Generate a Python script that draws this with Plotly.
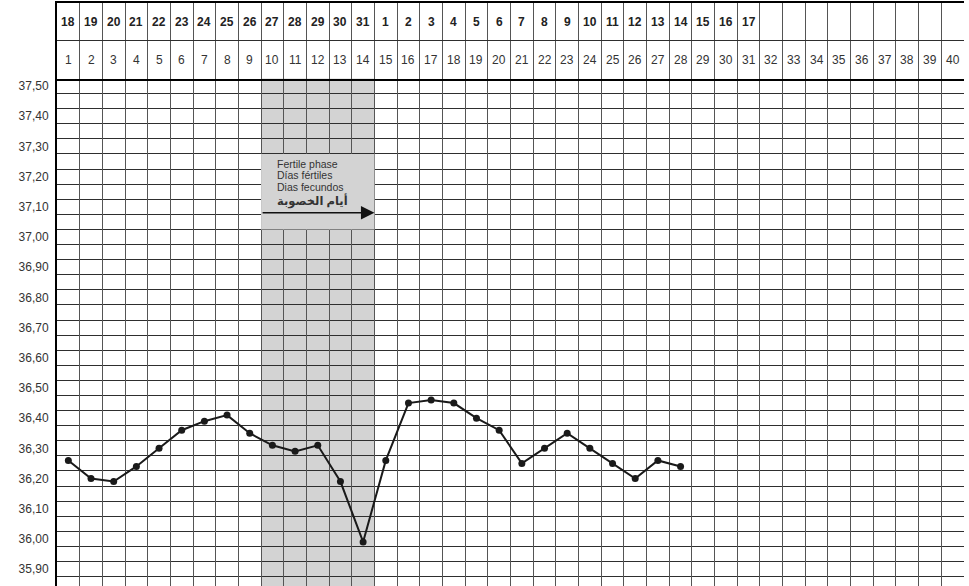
import plotly.graph_objects as go

# ---- data ----
cycle_days = list(range(1, 41))
date_labels = [str(d) for d in range(18, 32)] + [str(d) for d in range(1, 18)] + [""] * 9
temp_days = list(range(1, 29))
temps = [36.26, 36.20, 36.19, 36.24, 36.30, 36.36, 36.39, 36.41, 36.35, 36.31,
         36.29, 36.31, 36.19, 35.99, 36.26, 36.45, 36.46, 36.45, 36.40, 36.36,
         36.25, 36.30, 36.35, 36.30, 36.25, 36.20, 36.26, 36.24]
y_ticks = [35.90, 36.00, 36.10, 36.20, 36.30, 36.40, 36.50, 36.60, 36.70,
           36.80, 36.90, 37.00, 37.10, 37.20, 37.30, 37.40, 37.50]
fertile_start, fertile_end = 10, 14
fertile_texts = ["Fertile phase", "Días fértiles", "Dias fecundos", "أيام الخصوبة"]

W, H = 969, 586
ml, mr, mt, mb = 57, 5, 3, 0
main_top_px = 78.5
split = (H - main_top_px) / (H - mt - mb)

FONT = "Arial, Liberation Sans, DejaVu Sans, sans-serif"
col_edges = [c - 0.5 for c in cycle_days] + [cycle_days[-1] + 0.5]

fig = go.Figure()

fig.add_trace(go.Scatter(
    x=temp_days, y=temps, mode="lines+markers",
    line=dict(color="#1a1a1a", width=2),
    marker=dict(color="#1a1a1a", size=7),
    xaxis="x", yaxis="y", showlegend=False, hoverinfo="skip",
))

# header dummy trace to activate axes
fig.add_trace(go.Scatter(x=[1], y=[0.5], mode="markers", marker=dict(opacity=0),
                         xaxis="x2", yaxis="y2", showlegend=False, hoverinfo="skip"))

grid_v = "#555555"
grid_h = "#2e2e2e"

fig.update_layout(
    width=W, height=H,
    margin=dict(l=ml, r=mr, t=mt, b=mb, autoexpand=False),
    paper_bgcolor="white", plot_bgcolor="white",
    separators=",.",
    font=dict(family=FONT, color="#222"),
    xaxis=dict(domain=[0, 1], range=[0.5, 40.5], tickmode="array", tickvals=col_edges,
               showticklabels=False, ticks="", showgrid=True, gridcolor=grid_v, gridwidth=1,
               zeroline=False, showline=False, anchor="y", fixedrange=True, automargin=False),
    yaxis=dict(domain=[0, split], range=[35.844, 37.525], tickmode="array", tickvals=y_ticks,
               tickformat=".2f", showgrid=False, zeroline=False,
               ticks="outside", ticklen=4, tickcolor="rgba(0,0,0,0)",
               tickfont=dict(size=12, color="#333", family=FONT),
               showline=True, linecolor="black", linewidth=2,
               minor=dict(tickmode="linear", tick0=0.025, dtick=0.05, showgrid=True,
                          gridcolor=grid_h, gridwidth=1, ticks=""),
               anchor="x", fixedrange=True, automargin=False),
    xaxis2=dict(domain=[0, 1], range=[0.5, 40.5], tickmode="array", tickvals=col_edges,
                showticklabels=False, ticks="", showgrid=True, gridcolor=grid_v, gridwidth=1,
                zeroline=False, showline=True, mirror=True, linecolor="black", linewidth=2,
                anchor="y2", fixedrange=True, automargin=False),
    yaxis2=dict(domain=[split, 1], range=[0, 2], tickmode="array", tickvals=[1],
                showticklabels=False, ticks="", showgrid=True, gridcolor=grid_h, gridwidth=1,
                zeroline=False, showline=True, linecolor="black", linewidth=2,
                anchor="x2", fixedrange=True, automargin=False),
)

# shaded fertile band (below grid)
fig.add_shape(type="rect", xref="x", yref="y domain",
              x0=fertile_start - 0.5, x1=fertile_end + 0.5, y0=0, y1=1,
              fillcolor="#d3d3d3", line=dict(width=0), layer="below")
# text box (above grid)
fig.add_shape(type="rect", xref="x", yref="y",
              x0=fertile_start - 0.5, x1=fertile_end + 0.5, y0=37.025, y1=37.275,
              fillcolor="#d3d3d3", line=dict(width=0), layer="between")

ann = []
text_y = [37.243, 37.204, 37.164, 37.118]
for t, yy in zip(fertile_texts, text_y):
    is_ar = t == fertile_texts[-1]
    ann.append(dict(x=10.1, y=yy, xref="x", yref="y",
                    text=("<b>%s</b>" % t) if is_ar else t, showarrow=False,
                    xanchor="left", yanchor="middle",
                    font=dict(size=11.5 if is_ar else 10.5, color="#333", family=FONT)))
ann.append(dict(x=fertile_end + 0.5, y=37.08, ax=fertile_start - 0.5, ay=37.08,
                xref="x", yref="y", axref="x", ayref="y", text="", showarrow=True,
                arrowhead=2, arrowsize=1.8, arrowwidth=1.5, arrowcolor="#111"))

for c, d in zip(cycle_days, date_labels):
    if d:
        ann.append(dict(x=c, y=1.5, xref="x2", yref="y2", text="<b>%s</b>" % d, showarrow=False,
                        font=dict(size=12, color="#222", family=FONT)))
    ann.append(dict(x=c, y=0.5, xref="x2", yref="y2", text=str(c), showarrow=False,
                    font=dict(size=12, color="#333", family=FONT)))

fig.update_layout(annotations=ann)

fig.write_html("out.html", config={"displayModeBar": False},
               post_script="document.body.style.margin='0';document.body.style.overflow='hidden';")
